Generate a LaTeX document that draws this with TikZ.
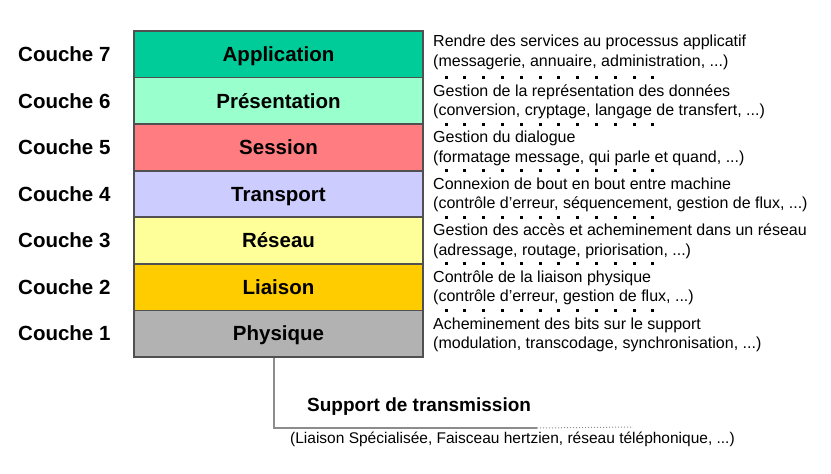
\documentclass[tikz,border=0pt]{standalone}
\usepackage{fontspec}
\setmainfont{Liberation Sans}
\definecolor{cApp}{RGB}{0,204,153}
\definecolor{cPre}{RGB}{153,255,204}
\definecolor{cSes}{RGB}{255,124,128}
\definecolor{cTra}{RGB}{204,204,255}
\definecolor{cRes}{RGB}{255,255,153}
\definecolor{cLia}{RGB}{255,204,0}
\definecolor{cPhy}{RGB}{178,178,178}
\definecolor{edgegray}{RGB}{80,80,80}
\definecolor{linkgray}{RGB}{140,140,140}
\begin{document}
\begin{tikzpicture}[x=1pt,y=-1pt,
  layerbox/.style={draw=edgegray, line width=1.6pt, minimum width=289pt, minimum height=46.57pt, inner sep=0pt, text height=14.5pt, text depth=0pt, font=\fontsize{20.5}{23}\selectfont\bfseries},
  couchelbl/.style={anchor=west, inner sep=0pt, text height=14.5pt, text depth=0pt, font=\fontsize{20.5}{23}\selectfont\bfseries},
  desc/.style={anchor=west, align=left, inner sep=0pt, font=\fontsize{16}{19.5}\selectfont},
  dotmark/.style={fill=black, minimum size=3pt, inner sep=0pt},
  link/.style={draw=linkgray, line width=1.6pt}]
\useasboundingbox (0,0) rectangle (831,474);
\def\rh{46.57}
\foreach \i/\nm/\col/\txt/\num in {0/app/cApp/Application/7, 1/pre/cPre/Présentation/6, 2/ses/cSes/Session/5, 3/tra/cTra/Transport/4, 4/res/cRes/Réseau/3, 5/lia/cLia/Liaison/2, 6/phy/cPhy/Physique/1}{
  \node[layerbox, fill=\col] (\nm) at (278.5, {31+\rh*(\i+0.5)}) {\txt};
  \node[couchelbl] (c\num) at (18, {31+\rh*(\i+0.5)}) {Couche \num};
}
\node[desc] (d7) at (433, 52.5) {Rendre des services au processus applicatif\\(messagerie, annuaire, administration, ...)};
\node[desc] (d6) at (433, {31+\rh*1+24}) {Gestion de la représentation des données\\(conversion, cryptage, langage de transfert, ...)};
\node[desc] (d5) at (433, {31+\rh*2+24}) {Gestion du dialogue\\(formatage message, qui parle et quand, ...)};
\node[desc] (d4) at (433, {31+\rh*3+24}) {Connexion de bout en bout entre machine\\(contrôle d’erreur, séquencement, gestion de flux, ...)};
\node[desc] (d3) at (433, {31+\rh*4+24}) {Gestion des accès et acheminement dans un réseau\\(adressage, routage, priorisation, ...)};
\node[desc] (d2) at (433, {31+\rh*5+24}) {Contrôle de la liaison physique\\(contrôle d’erreur, gestion de flux, ...)};
\node[desc] (d1) at (433, {31+\rh*6+24.5}) {Acheminement des bits sur le support\\(modulation, transcodage, synchronisation, ...)};
\foreach \r in {1,...,6}{
  \foreach \k in {0,...,11}{
    \node[dotmark] (dot\r-\k) at ({446+18.8*\k}, {31+\rh*\r}) {};
  }
}
\coordinate (bend) at (274,428);
\coordinate (solidend) at (537,428);
\coordinate (dotend) at (633,427);
\draw[link] (phy.south -| bend) -- (bend) -- (solidend);
\draw[draw=linkgray, line width=1pt, dotted] (solidend) -- (dotend);
\node[anchor=west, inner sep=0pt, font=\fontsize{19}{22}\selectfont\bfseries] (sup) at (307,407) {Support de transmission};
\node[anchor=west, inner sep=0pt, font=\fontsize{15.5}{18}\selectfont] (supd) at (290,439) {(Liaison Spécialisée, Faisceau hertzien, réseau téléphonique, ...)};
\end{tikzpicture}
\end{document}
